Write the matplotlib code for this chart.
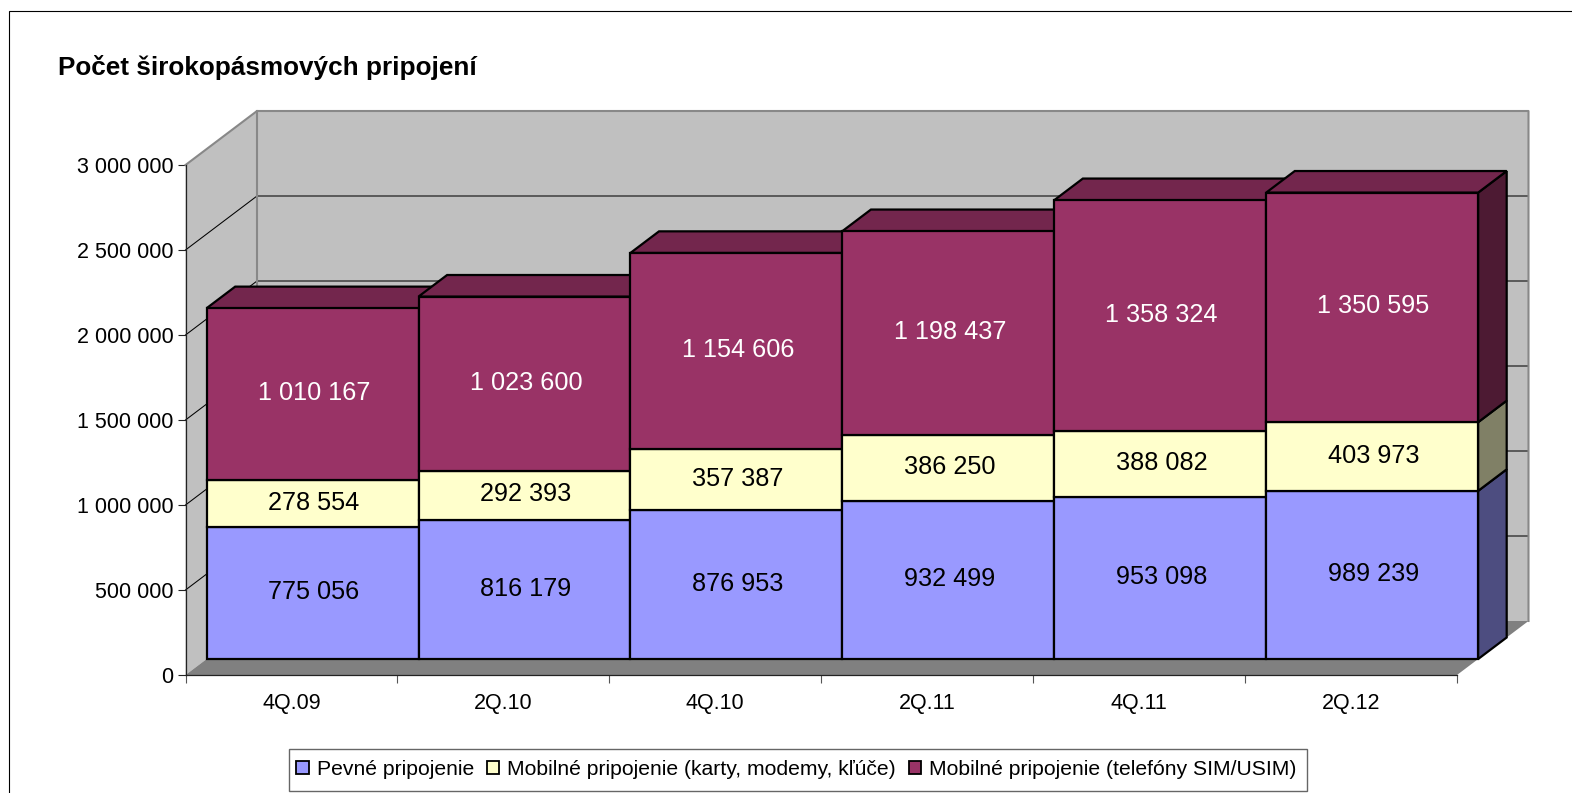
import matplotlib
matplotlib.use("Agg")
import matplotlib.pyplot as plt
from matplotlib.patches import Patch, Polygon, Rectangle

plt.rcParams['font.family'] = ['Liberation Sans', 'DejaVu Sans']

title = "Počet širokopásmových pripojení"
categories = ["4Q.09", "2Q.10", "4Q.10", "2Q.11", "4Q.11", "2Q.12"]
fixed = [775056, 816179, 876953, 932499, 953098, 989239]
mobile_cards = [278554, 292393, 357387, 386250, 388082, 403973]
mobile_phones = [1010167, 1023600, 1154606, 1198437, 1358324, 1350595]
series_names = ["Pevné pripojenie", "Mobilné pripojenie (karty, modemy, kľúče)",
                "Mobilné pripojenie (telefóny SIM/USIM)"]
y_ticks = [0, 500000, 1000000, 1500000, 2000000, 2500000, 3000000]
y_labels = ["0", "500 000", "1 000 000", "1 500 000", "2 000 000", "2 500 000", "3 000 000"]
series = [fixed, mobile_cards, mobile_phones]
front = ["#9999FF", "#FFFFCC", "#993366"]
side = ["#4D4D80", "#808066", "#4D1A33"]
top_face = "#73264D"
label_col = ["black", "black", "white"]

W, H = 1572, 793
fig = plt.figure(figsize=(W / 100, H / 100), dpi=100, facecolor="white")
fig.add_artist(Rectangle((9 / W, -0.1), 1.2, 1.1 - 11 / H, transform=fig.transFigure,
                         fill=False, ec="black", lw=0.8))

X0, X1, Y0, Y3 = 185.5, 1457.0, 675.0, 165.0
ax = fig.add_axes([X0 / W, 1 - Y0 / H, (X1 - X0) / W, (Y0 - Y3) / H])
ax.set_xlim(0, 6)
ax.set_ylim(0, 3000000)
ax.patch.set_visible(False)
for s in ("top", "right"):
    ax.spines[s].set_visible(False)
for s in ("left", "bottom"):
    ax.spines[s].set_linewidth(0.9)
    ax.spines[s].set_color("#222222")
    ax.spines[s].set_zorder(20)

# oblique depth projection in data units: d=0 front plane, d=1 back wall
KX = 71.5 / ((X1 - X0) / 6)
KY = 54.0 / (Y0 - Y3) * 3000000
YMAX = 3000000
XMAX = 6


def P(x, y, d):
    return (x + d * KX, y + d * KY)


def poly(points, **kw):
    kw.setdefault("clip_on", False)
    ax.add_patch(Polygon(points, closed=True, **kw))


wall_edge = "#888888"
poly([P(0, 0, 0), P(0, YMAX, 0), P(0, YMAX, 1), P(0, 0, 1)], fc="#C0C0C0", ec="none", zorder=1)
poly([P(0, 0, 1), P(0, YMAX, 1), P(XMAX, YMAX, 1), P(XMAX, 0, 1)], fc="#C0C0C0", ec="none", zorder=1)
poly([P(0, 0, 0), P(XMAX, 0, 0), P(XMAX, 0, 1), P(0, 0, 1)], fc="#808080", ec="none", zorder=1.5)

for v in y_ticks[1:-1]:
    ax.plot(*zip(P(0, v, 0), P(0, v, 1), P(XMAX, v, 1)), color="black", lw=0.75,
            clip_on=False, zorder=1.2)
ax.plot(*zip(P(0, YMAX, 0), P(0, YMAX, 1), P(XMAX, YMAX, 1), P(XMAX, 0, 1)),
        color=wall_edge, lw=1.5, clip_on=False, zorder=1.6)
ax.plot(*zip(P(0, YMAX, 1), P(0, 0, 1)), color=wall_edge, lw=1.5, clip_on=False, zorder=1.6)

D1, D2 = 0.295, 0.695
EDGE = dict(ec="black", lw=1.6, joinstyle="miter")
z = 3
for i in range(len(categories)):
    base = 0
    for k, vals in enumerate(series):
        v = vals[i]
        poly([P(i + 1, base, D1), P(i + 1, base + v, D1),
              P(i + 1, base + v, D2), P(i + 1, base, D2)], fc=side[k], zorder=z, **EDGE)
        base += v
    poly([P(i, base, D1), P(i + 1, base, D1), P(i + 1, base, D2), P(i, base, D2)],
         fc=top_face, zorder=z, **EDGE)
    base = 0
    for k, vals in enumerate(series):
        v = vals[i]
        x, y = P(i, base, D1)
        ax.bar(x, v, width=1, bottom=y, align="edge", color=front[k], edgecolor="black",
               linewidth=1.6, clip_on=False, zorder=z + 0.5)
        cx, cy = P(i + 0.5, base + v / 2, D1)
        txt = f"{v:,}".replace(",", " ")
        ax.annotate(txt, (cx, cy), xytext=(1, 0.7), textcoords="offset points",
                    ha="center", va="center", fontsize=18.2, color=label_col[k], zorder=30)
        base += v
    z += 1

ax.set_yticks(y_ticks)
ax.set_yticklabels(y_labels, fontsize=15.5)
ax.tick_params(axis="y", length=5.8, width=0.8, pad=3, color="#222222")
ax.set_xticks(range(7))
ax.set_xticklabels([""] * 7)
ax.tick_params(axis="x", which="major", length=5.8, width=0.8, color="#555555")
ax.set_xticks([i + 0.5 for i in range(6)], minor=True)
ax.set_xticklabels(categories, minor=True, fontsize=15.5)
ax.tick_params(axis="x", which="minor", length=0, pad=13)

fig.text(58 / W, 1 - 75 / H, title, fontsize=18.8, fontweight="bold", ha="left", va="baseline")

fig.add_artist(Rectangle((289 / W, 1 - 791 / H), (1307 - 289) / W, 42 / H,
                         transform=fig.transFigure, fc="white", ec="#666666", lw=1.0))
handles = [Patch(fc=c, ec="black", lw=1.3) for c in front]
leg = fig.legend(handles, series_names, loc="lower left",
                 bbox_to_anchor=(289 / W, 1 - 786 / H), bbox_transform=fig.transFigure,
                 ncol=3, fontsize=15.2, frameon=False,
                 handlelength=0.6, handleheight=0.6,
                 handletextpad=0.38, columnspacing=0.6, borderpad=0.33, borderaxespad=0)

fig.savefig("out.png", dpi=100)
